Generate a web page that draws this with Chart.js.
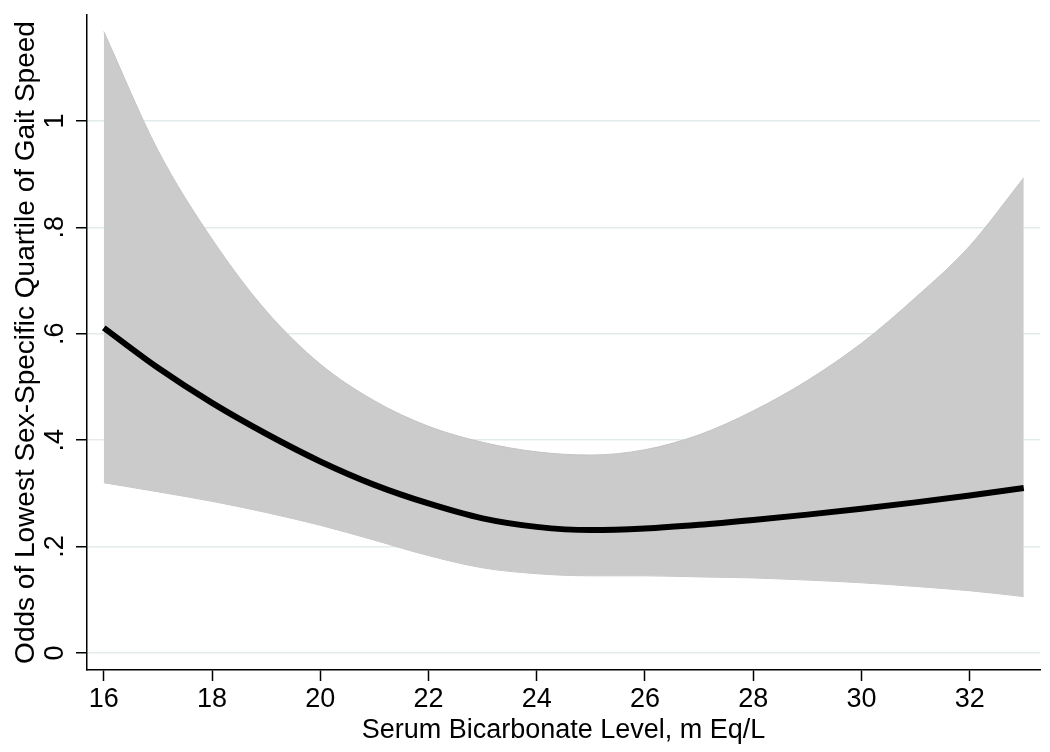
<!DOCTYPE html>
<html>
<head>
<meta charset="utf-8">
<script src="https://cdn.jsdelivr.net/npm/chart.js@4"></script>
<style>
  html, body { margin: 0; padding: 0; background: #fff; }
</style>
</head>
<body>
<canvas id="SplineChart" width="1050" height="752"></canvas>
<script>
// bicarbonate levels (x) and the fitted odds with its confidence band
const bicarbLevels = [16, 17, 18, 19, 20, 21, 22, 23, 24, 25, 26, 27, 28, 29, 30, 31, 32, 33];
const oddsFit   = [0.611, 0.536, 0.470, 0.412, 0.360, 0.316, 0.281, 0.253, 0.237, 0.231, 0.234, 0.241, 0.250, 0.260, 0.271, 0.283, 0.296, 0.310];
const upperCI   = [1.168, 0.945, 0.778, 0.643, 0.543, 0.474, 0.426, 0.396, 0.378, 0.372, 0.382, 0.410, 0.455, 0.512, 0.582, 0.668, 0.765, 0.893];
const lowerCI   = [0.320, 0.303, 0.285, 0.264, 0.240, 0.212, 0.183, 0.160, 0.149, 0.145, 0.145, 0.143, 0.141, 0.137, 0.132, 0.125, 0.117, 0.106];

const xTicks = [16, 18, 20, 22, 24, 26, 28, 30, 32];
const yTicks = [0, 0.2, 0.4, 0.6, 0.8, 1];
const yTickLabels = ['0', '.2', '.4', '.6', '.8', '1'];

const FONT = "'Liberation Sans', Arial, sans-serif";

function toPoints(values) {
  return bicarbLevels.map((x, i) => ({ x: x, y: values[i] }));
}

// y tick labels are written sideways, like the original
const rotatedYLabels = {
  id: 'rotatedYLabels',
  afterDraw(chart) {
    const ctx = chart.ctx;
    const ys = chart.scales.y;
    ctx.save();
    ctx.font = '27px ' + FONT;
    ctx.fillStyle = '#000';
    ctx.textAlign = 'center';
    ctx.textBaseline = 'middle';
    yTicks.forEach((v, i) => {
      const py = ys.getPixelForValue(v);
      ctx.save();
      ctx.translate(ys.right - 31, py);
      ctx.rotate(-Math.PI / 2);
      ctx.fillText(yTickLabels[i], 0, 0);
      ctx.restore();
    });
    ctx.restore();
  }
};

var ctx = document.getElementById('SplineChart').getContext('2d');

var SplineChart = new Chart(ctx, {
  type: 'line',
  data: {
    datasets: [
      {
        data: toPoints(oddsFit),
        borderColor: '#000',
        borderWidth: 6,
        pointRadius: 0,
        cubicInterpolationMode: 'monotone',
        fill: false
      },
      {
        data: toPoints(upperCI),
        borderColor: '#c4c4c4',
        borderWidth: 1,
        backgroundColor: '#cbcbcb',
        pointRadius: 0,
        cubicInterpolationMode: 'monotone',
        fill: '+1'
      },
      {
        data: toPoints(lowerCI),
        borderColor: '#c4c4c4',
        borderWidth: 1,
        pointRadius: 0,
        cubicInterpolationMode: 'monotone',
        fill: false
      }
    ]
  },
  options: {
    responsive: false,
    animation: false,
    layout: { padding: { left: 9, right: 10, top: 15, bottom: 0 } },
    scales: {
      x: {
        type: 'linear',
        min: 15.69,
        max: 33.3,
        afterBuildTicks: (scale) => { scale.ticks = xTicks.map(v => ({ value: v })); },
        afterFit: (scale) => { scale.height = 82; },
        border: { display: true, color: '#000', width: 1.5 },
        grid: { drawOnChartArea: false, drawTicks: true, tickLength: 11, tickColor: '#000', tickWidth: 1.5 },
        ticks: {
          color: '#000',
          font: { family: FONT, size: 27 },
          padding: 2,
          autoSkip: false,
          maxRotation: 0,
          callback: (v) => v
        },
        title: {
          display: true,
          text: 'Serum Bicarbonate Level, m Eq/L',
          color: '#000',
          font: { family: FONT, size: 27 },
          padding: { top: 0, bottom: 5 }
        }
      },
      y: {
        min: -0.032,
        max: 1.199,
        afterBuildTicks: (scale) => { scale.ticks = yTicks.map(v => ({ value: v })); },
        afterFit: (scale) => { scale.width = 78; },
        border: { display: true, color: '#000', width: 1.5 },
        grid: { color: '#e2ecec', lineWidth: 1.5, drawTicks: true, tickLength: 11, tickColor: '#000', tickWidth: 1.5 },
        ticks: { display: false },
        title: {
          display: true,
          text: 'Odds of Lowest Sex-Specific Quartile of Gait Speed',
          color: '#000',
          font: { family: FONT, size: 28 },
          padding: 0
        }
      }
    },
    plugins: {
      legend: { display: false },
      tooltip: { enabled: false }
    }
  },
  plugins: [rotatedYLabels]
});
</script>
</body>
</html>
